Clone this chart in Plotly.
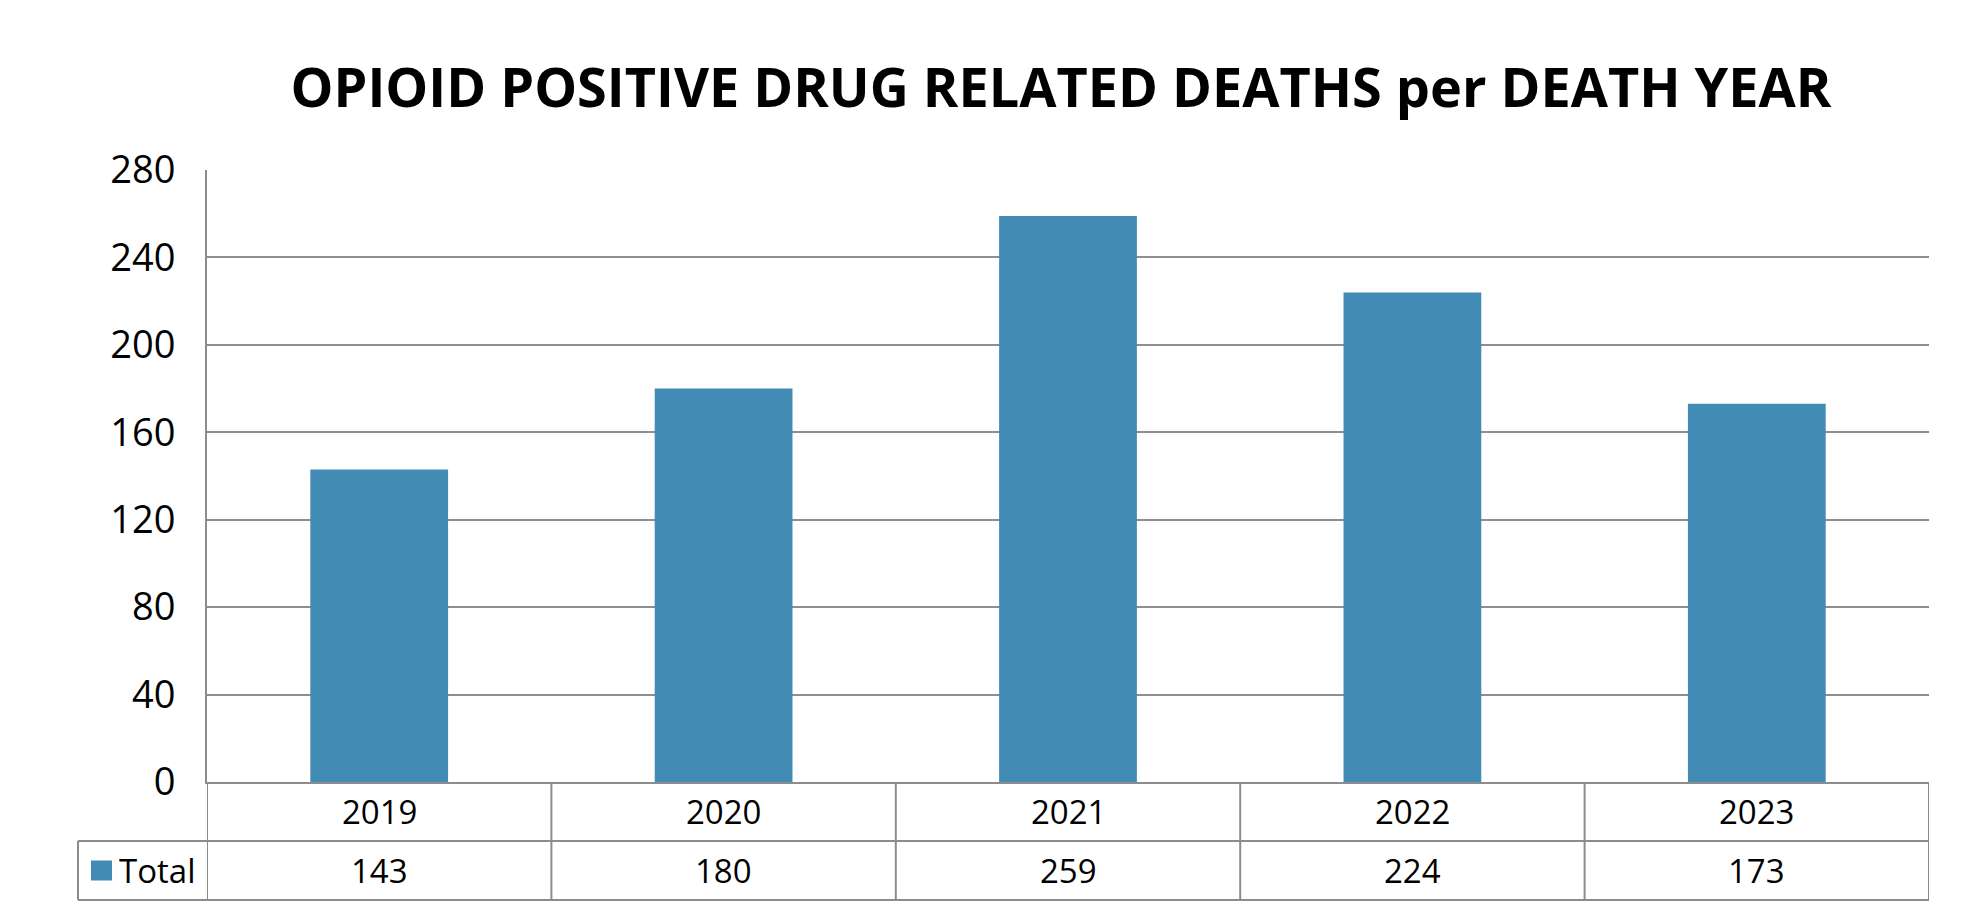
import plotly.graph_objects as go

years = ["2019", "2020", "2021", "2022", "2023"]
totals = [143, 180, 259, 224, 173]
series_name = "Total"
y_ticks = [0, 40, 80, 120, 160, 200, 240, 280]
title_text = "OPIOID POSITIVE DRUG RELATED DEATHS per DEATH YEAR"

W, H = 1980, 924
OFF = 8  # page body margin offset
L, R, T = 207 - OFF, 51 + OFF, 170 - OFF
ZERO = 782 - OFF
B = H - ZERO
plot_w = W - L - R
plot_h = H - T - B

BAR = "#428BB5"
GRID = "#8E8E8E"
LINE = "#8C8C8C"
FONT = "Open Sans"

def py(px_below_zero):
    return -px_below_zero / plot_h

def pxx(px_page):
    return (px_page - OFF - L) / plot_w

row1_bot = py(841 - 782)
row2_bot = py(900 - 782)
legend_left = pxx(78)

fig = go.Figure()
fig.add_trace(go.Bar(x=list(range(len(years))), y=totals, name=series_name,
                     marker=dict(color=BAR, line=dict(width=0)), width=0.4,
                     showlegend=False))

shapes = []
for i in range(len(years) + 1):
    xv = i - 0.5
    shapes.append(dict(type="line", xref="x", yref="paper", x0=xv, x1=xv,
                       y0=0, y1=row2_bot, line=dict(color=LINE, width=2)))
for yv in (row1_bot, row2_bot):
    shapes.append(dict(type="line", xref="paper", yref="paper", x0=legend_left, x1=1,
                       y0=yv, y1=yv, line=dict(color=LINE, width=2)))
shapes.append(dict(type="line", xref="paper", yref="paper", x0=legend_left, x1=legend_left,
                   y0=row1_bot, y1=row2_bot, line=dict(color=LINE, width=2)))
sw = 21 / plot_w
swh = 20 / plot_h
sx0 = pxx(91)
ymid2 = (row1_bot + row2_bot) / 2
shapes.append(dict(type="rect", xref="paper", yref="paper", x0=sx0, x1=sx0 + sw,
                   y0=ymid2 - swh / 2, y1=ymid2 + swh / 2, fillcolor=BAR,
                   line=dict(width=0)))

annotations = []
ymid1 = row1_bot / 2
tfont = dict(family=FONT, size=33, color="#000000")
for i, (yr, v) in enumerate(zip(years, totals)):
    annotations.append(dict(x=i, y=ymid1, xref="x", yref="paper", text=yr, showarrow=False,
                            font=tfont, xanchor="center", yanchor="middle"))
    annotations.append(dict(x=i, y=ymid2, xref="x", yref="paper", text=str(v), showarrow=False,
                            font=tfont, xanchor="center", yanchor="middle"))
annotations.append(dict(x=pxx(117), y=ymid2, xref="paper", yref="paper", text=series_name,
                        showarrow=False, font=tfont, xanchor="left", yanchor="middle"))

fig.update_layout(
    width=W, height=H,
    margin=dict(l=L, r=R, t=T, b=B, autoexpand=False),
    paper_bgcolor="white", plot_bgcolor="white",
    title=dict(text="<b>" + title_text + "</b>", x=pxx(1061), xref="paper",
               y=1 - (88 - OFF) / H, yref="container", xanchor="center", yanchor="middle",
               font=dict(family=FONT, size=54, color="#000000")),
    bargap=0.6,
    shapes=shapes,
    annotations=annotations,
    xaxis=dict(range=[-0.5, len(years) - 0.5], showticklabels=False, showgrid=False,
               zeroline=False, showline=True, linecolor=LINE, linewidth=2, ticks=""),
    yaxis=dict(range=[0, 280], tickvals=y_ticks, showgrid=True, gridcolor=GRID, gridwidth=2,
               zeroline=False, showline=True, linecolor=LINE, linewidth=2, ticks="",
               ticklabelstandoff=22,
               tickfont=dict(family=FONT, size=38, color="#000000")),
)

fig.write_html("out.html")
